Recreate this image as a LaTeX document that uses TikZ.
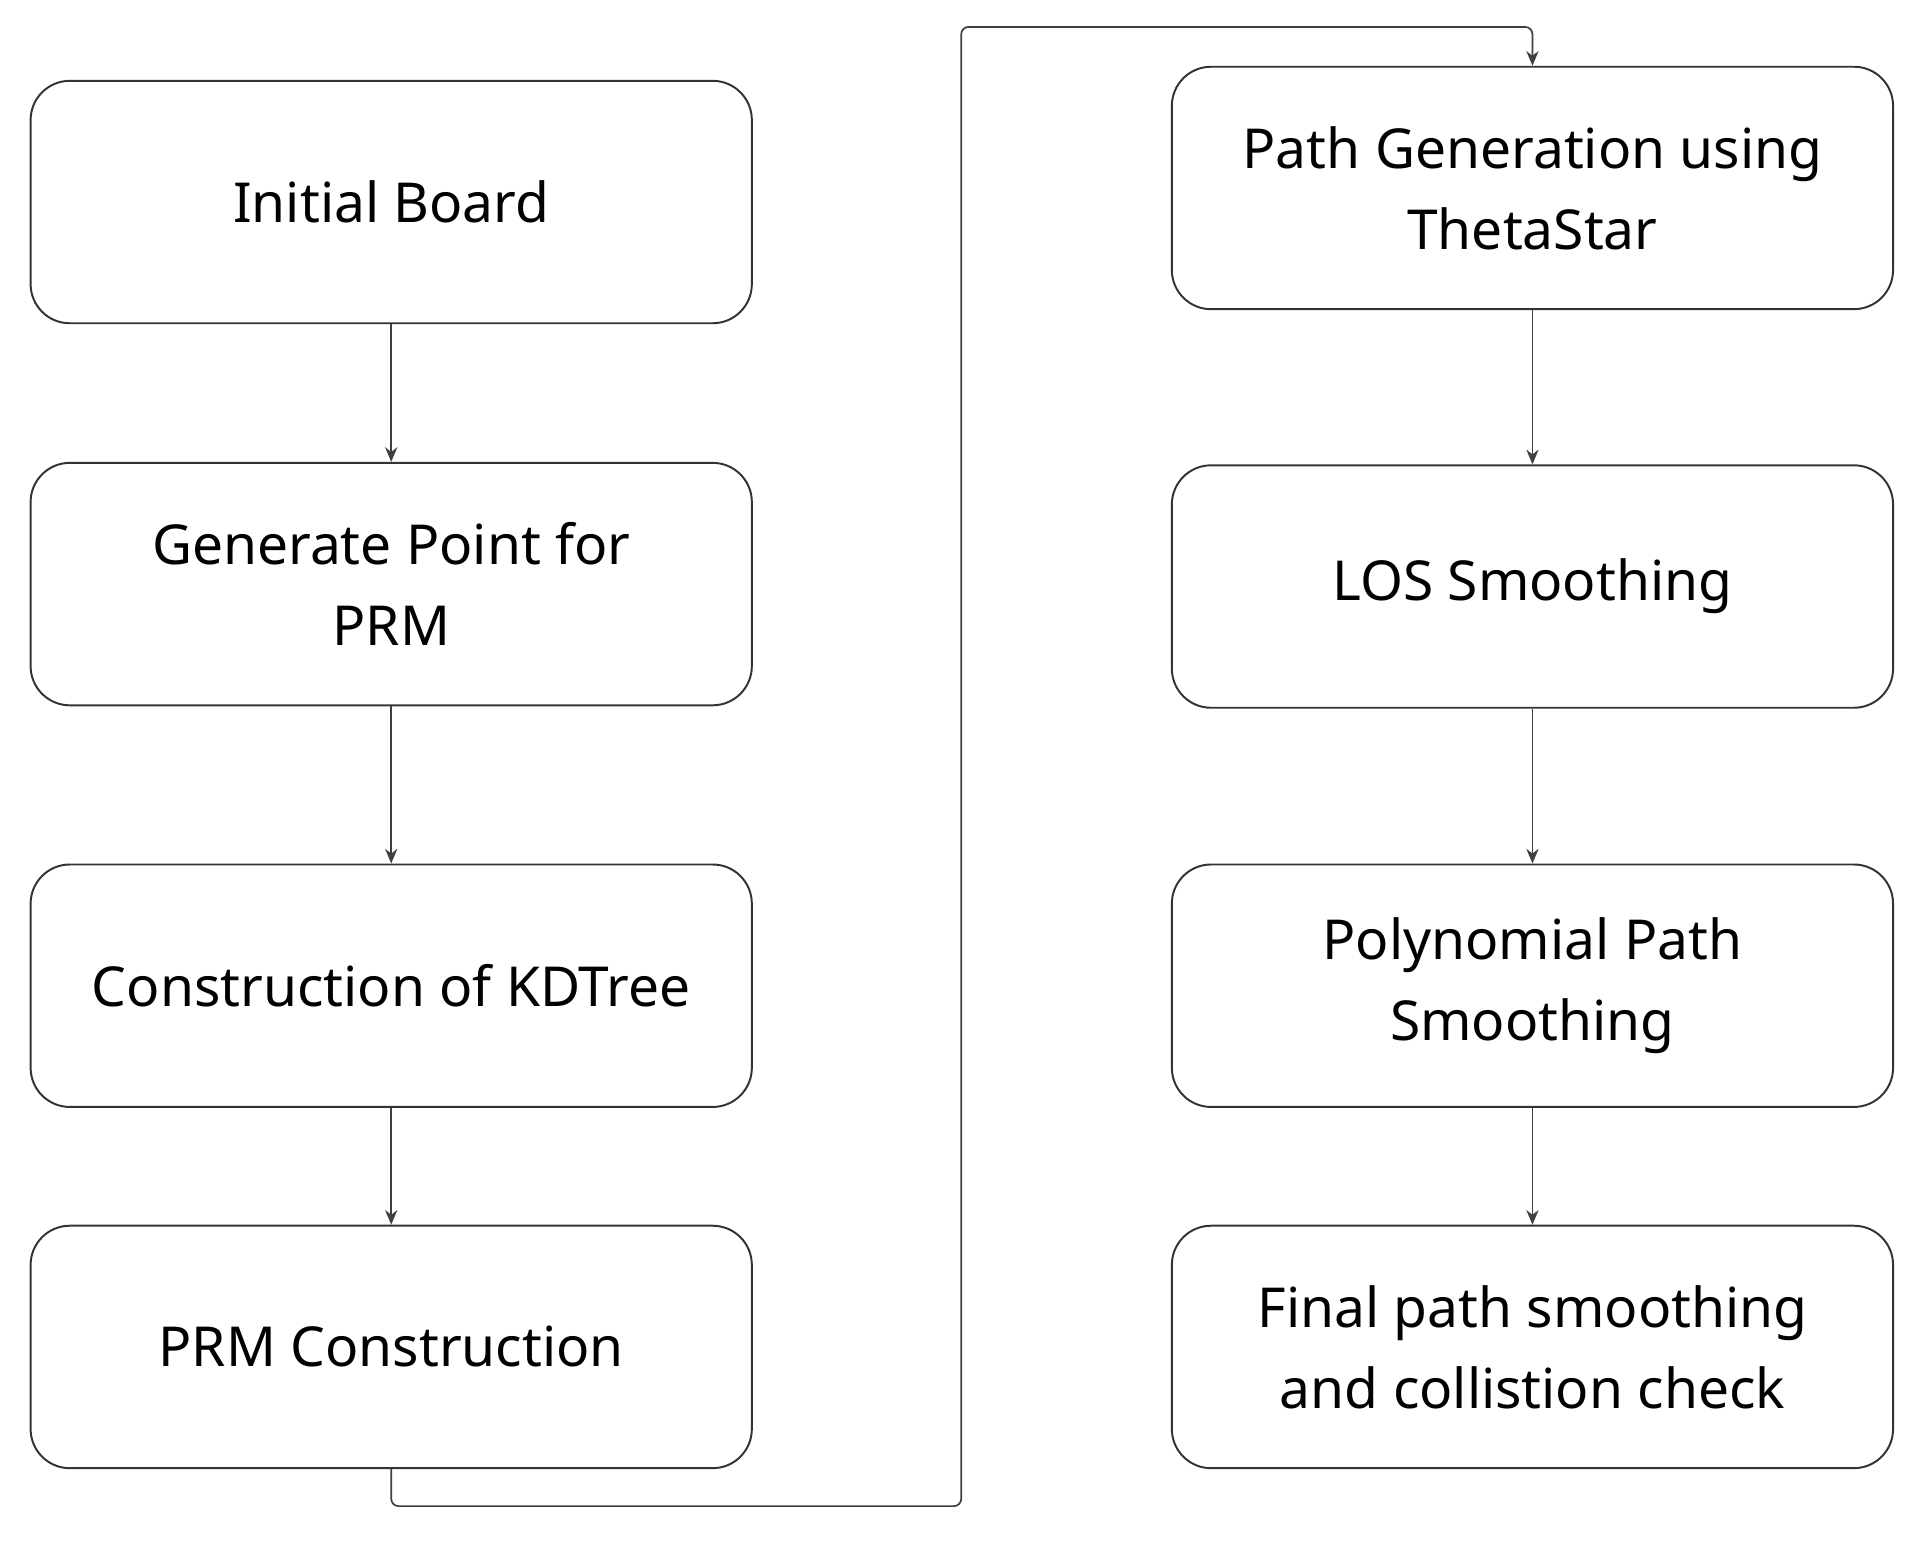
\documentclass[tikz,border=0pt]{standalone}
\usepackage{fontspec}
\setmainfont{Noto Sans}
\usetikzlibrary{arrows.meta}
\begin{document}
\begin{tikzpicture}[x=1pt,y=-1pt,
  box/.style={draw=black!80,line width=1.6pt,rounded corners=32pt,minimum width=589pt,minimum height=198pt,align=center,font=\fontsize{45}{66}\selectfont,inner sep=0pt},
  arr/.style={draw=black!75,line width=1.4pt,-{Stealth[length=12pt,width=10pt]}}]
\useasboundingbox (0,0) rectangle (1568,1260);
\node[box] (a) at (319.5,165) {Initial Board};
\node[box] (b) at (319.5,477) {Generate Point for\\PRM};
\node[box] (c) at (319.5,805) {Construction of KDTree};
\node[box] (d) at (319.5,1100) {PRM Construction};
\node[box] (e) at (1251.5,153.5) {Path Generation using\\ThetaStar};
\node[box] (f) at (1251.5,479) {LOS Smoothing};
\node[box] (g) at (1251.5,805) {Polynomial Path\\Smoothing};
\node[box] (h) at (1251.5,1100) {Final path smoothing\\and collistion check};
\draw[arr] (a) -- (b);
\draw[arr] (b) -- (c);
\draw[arr] (c) -- (d);
\draw[arr] (e) -- (f);
\draw[arr] (f) -- (g);
\draw[arr] (g) -- (h);
\draw[arr,rounded corners=6pt] (d.south) -- (319.5,1230) -- (785,1230) -- (785,22) -- (1251.5,22) -- (e.north);
\end{tikzpicture}
\end{document}
